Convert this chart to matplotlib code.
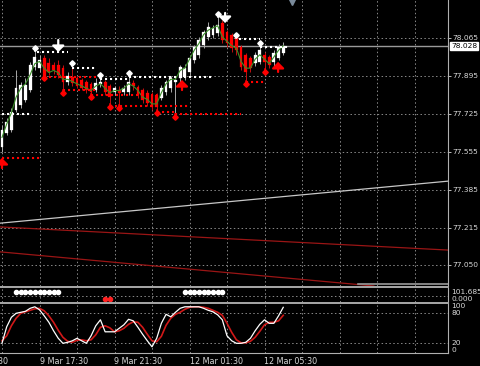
import numpy as np
import matplotlib
matplotlib.use('Agg')
import matplotlib.pyplot as plt

# ---------------- data ----------------
opens = [77.577, 77.640, 77.653, 77.743, 77.765, 77.788, 77.832, 77.935, 77.931, 77.976,
         77.953, 77.944, 77.944, 77.931, 77.868, 77.891, 77.886, 77.877, 77.868, 77.859,
         77.832, 77.859, 77.868, 77.850, 77.823, 77.832, 77.823, 77.823, 77.864, 77.846,
         77.832, 77.819, 77.810, 77.810, 77.797, 77.823, 77.841, 77.868, 77.886, 77.891,
         77.913, 77.967, 77.989, 78.034, 78.069, 78.078, 78.087, 78.132, 78.092, 78.078,
         78.069, 78.025, 77.989, 77.976, 77.953, 77.958, 77.989, 77.980, 77.958, 77.976,
         77.998]
closes = [77.653, 77.689, 77.734, 77.841, 77.855, 77.855, 77.944, 77.980, 77.967, 77.891,
          77.913, 77.922, 77.899, 77.868, 77.895, 77.864, 77.850, 77.841, 77.832, 77.823,
          77.864, 77.868, 77.823, 77.801, 77.841, 77.819, 77.841, 77.868, 77.850, 77.810,
          77.788, 77.774, 77.756, 77.756, 77.841, 77.868, 77.886, 77.877, 77.935, 77.931,
          77.976, 78.025, 78.056, 78.092, 78.114, 78.110, 78.123, 78.056, 78.043, 78.020,
          78.011, 77.935, 77.913, 77.931, 77.989, 78.011, 77.958, 77.944, 77.998, 78.025,
          78.028]
highs = [77.676, 77.707, 77.752, 77.922, 77.868, 77.886, 77.958, 78.011, 77.989, 77.989,
         77.976, 77.958, 77.967, 77.944, 77.913, 77.953, 77.895, 77.886, 77.877, 77.868,
         77.886, 77.899, 77.877, 77.859, 77.850, 77.850, 77.855, 77.895, 77.877, 77.855,
         77.841, 77.832, 77.823, 77.819, 77.855, 77.877, 77.895, 77.895, 77.944, 77.949,
         77.989, 78.034, 78.069, 78.101, 78.137, 78.123, 78.159, 78.146, 78.101, 78.087,
         78.074, 78.034, 77.998, 77.984, 78.002, 78.038, 78.002, 77.989, 78.011, 78.038,
         78.047]
lows = [77.555, 77.631, 77.644, 77.734, 77.752, 77.779, 77.823, 77.922, 77.913, 77.877,
        77.899, 77.904, 77.886, 77.823, 77.855, 77.850, 77.841, 77.832, 77.819, 77.801,
        77.823, 77.846, 77.810, 77.756, 77.810, 77.752, 77.810, 77.810, 77.832, 77.797,
        77.774, 77.761, 77.743, 77.729, 77.788, 77.810, 77.823, 77.707, 77.855, 77.877,
        77.899, 77.953, 77.976, 78.020, 78.056, 78.065, 78.074, 78.043, 78.025, 78.002,
        77.989, 77.922, 77.868, 77.913, 77.940, 77.949, 77.922, 77.931, 77.940, 77.967,
        77.989]
ma_line = [77.62, 77.68, 77.73, 77.80, 77.84, 77.86, 77.90, 77.95, 77.96, 77.93,
           77.91, 77.92, 77.91, 77.88, 77.88, 77.87, 77.86, 77.85, 77.84, 77.83,
           77.85, 77.86, 77.84, 77.82, 77.83, 77.83, 77.84, 77.86, 77.85, 77.83,
           77.80, 77.79, 77.77, 77.77, 77.82, 77.86, 77.88, 77.88, 77.92, 77.93,
           77.97, 78.01, 78.04, 78.08, 78.10, 78.11, 78.12, 78.07, 78.05, 78.03,
           78.02, 77.96, 77.93, 77.93, 77.97, 77.99, 77.97, 77.95, 77.98, 78.01,
           78.03]

stoch_main = [20, 53, 72, 80, 82, 84, 90, 93, 87, 75, 62, 45, 30, 20, 22, 25, 30, 25, 20, 35,
              55, 67, 43, 43, 43, 50, 57, 68, 65, 52, 38, 25, 13, 30, 60, 78, 73, 82, 90, 93,
              93, 93, 93, 90, 86, 83, 77, 67, 35, 25, 20, 20, 22, 30, 45, 58, 67, 60, 60, 75,
              92]
stoch_signal = [25, 35, 55, 70, 80, 83, 86, 89, 90, 85, 75, 62, 46, 32, 24, 22, 26, 27, 25, 27,
                37, 52, 55, 51, 43, 45, 50, 58, 63, 62, 52, 38, 25, 23, 34, 56, 70, 78, 82, 88,
                92, 93, 93, 92, 90, 86, 82, 76, 60, 42, 27, 21, 21, 24, 32, 44, 57, 62, 62, 65,
                76]

# fractal markers (bar, price)
up_fr_bars = [7, 15, 21, 27, 46, 50, 55]
up_fr_prices = [78.020, 77.953, 77.899, 77.908, 78.172, 78.078, 78.043]
dn_fr_bars = [9, 13, 19, 23, 25, 33, 37, 52, 56]
dn_fr_prices = [77.886, 77.819, 77.801, 77.756, 77.752, 77.729, 77.712, 77.859, 77.913]

# dotted level lines (start bar, end bar, price)
white_lv_start = [0, 7.5, 15, 21, 27, 50.5, 55]
white_lv_end = [6, 14, 20, 27, 45, 55, 61]
white_lv_price = [77.725, 78.002, 77.931, 77.882, 77.891, 78.060, 78.025]
red_lv_start = [0, 9, 13, 19, 23, 33, 37, 52]
red_lv_end = [8, 20, 20, 33, 40, 37, 51, 56]
red_lv_price = [77.528, 77.891, 77.832, 77.810, 77.761, 77.734, 77.725, 77.868]

# big signal arrows (bar, tail price, tip price)
sell_bars = [12, 47.6]
sell_tail = [78.056, 78.177]
sell_tip = [78.002, 78.132]
buy_bars = [0, 38.4, 58.9]
buy_tail = [77.483, 77.832, 77.913]
buy_tip = [77.528, 77.877, 77.958]

# trend lines: (bar a, price a, bar b, price b)
trend_white = (0, 77.237, 95, 77.424)
trend_red1 = (0, 77.219, 95, 77.116)
trend_red2 = (0, 77.107, 95, 76.925)

# small panel dots
white_dot_bars = [3, 4, 5, 6, 7, 8, 9, 10, 11, 12, 39, 40, 41, 42, 43, 44, 45, 46, 47]
red_dot_bars = [22, 23]

price_ticks = [78.065, 77.895, 77.725, 77.555, 77.385, 77.215, 77.050]
price_labels = ['78.065', '77.895', '77.725', '77.555', '77.385', '77.215', '77.050']
current_price = 78.028

time_label_bars = [8, 24, 40, 56]
time_labels = ['9 Mar 17:30', '9 Mar 21:30', '12 Mar 01:30', '12 Mar 05:30']
first_time_label = '9 Mar 13:30'

# ---------------- figure ----------------
W, H = 480, 366
fig = plt.figure(figsize=(W / 100, H / 100), dpi=100, facecolor='black')


def fax(x0, y0, x1, y1):
    a = fig.add_axes([x0 / W, 1 - y1 / H, (x1 - x0) / W, (y1 - y0) / H])
    a.set_facecolor('black')
    for s in a.spines.values():
        s.set_visible(False)
    return a


ppb = 4.6875
xlim = (-2 / ppb, (448 - 2) / ppb)
GRID = '#8a8a8a'
TXT = '#d8d8d8'
FS = 5.4

ax = fax(0, 0, 448, 286)
ax2 = fax(0, 288, 448, 302)
ax3 = fax(0, 303.3, 448, 353.3)
for a in (ax, ax2, ax3):
    a.set_xlim(*xlim)
    a.set_xticks([])
    for b in np.arange(0, 96, 8):
        a.axvline(b, color=GRID, lw=0.7, ls=(0, (1.5, 2.5)), zorder=0)

# main panel
ax.set_ylim(76.955, 78.235)
ax.yaxis.tick_right()
ax.set_yticks(price_ticks)
ax.set_yticklabels(price_labels)
ax.tick_params(axis='y', colors=TXT, labelsize=FS, length=2, pad=1.5, width=0.6)
for t in price_ticks:
    ax.axhline(t, color=GRID, lw=0.7, ls=(0, (1.5, 2.5)), zorder=0)
ax.spines['right'].set_visible(True)
ax.spines['right'].set_color('#b0b0b0')

# trend lines
for (b0, p0, b1, p1), col in ((trend_white, '#c8c8c8'), (trend_red1, '#9a1515'), (trend_red2, '#9a1515')):
    ax.axline((b0, p0), (b1, p1), color=col, lw=0.9, zorder=1)
ax.plot([76, 95.2], [76.962, 76.962], color='#9a9a9a', lw=1.2, zorder=1)

# current price line
ax.axhline(current_price, color='#9a9a9a', lw=1.0, zorder=1)

# candles
x = np.arange(len(closes))
o = np.array(opens); c = np.array(closes); h = np.array(highs); l = np.array(lows)
bull = c >= o
ax.vlines(x[bull], l[bull], h[bull], color='#a8a8a8', lw=0.7, zorder=3)
ax.vlines(x[~bull], l[~bull], h[~bull], color='#c01010', lw=0.7, zorder=3)
ax.bar(x[bull], (c - o)[bull], bottom=o[bull], width=0.6, color='white', edgecolor='white', lw=0.2, zorder=4)
ax.bar(x[~bull], (o - c)[~bull], bottom=c[~bull], width=0.6, color='#ff0000', edgecolor='#ff0000', lw=0.2, zorder=4)

# moving average
ax.plot(x, ma_line, color='#3a8f28', lw=0.8, zorder=5)

# dotted level lines
for s, e, p in zip(white_lv_start, white_lv_end, white_lv_price):
    ax.plot([s, e], [p, p], color='white', lw=1.5, ls=(0, (1, 1.4)), zorder=6)
for s, e, p in zip(red_lv_start, red_lv_end, red_lv_price):
    ax.plot([s, e], [p, p], color='#ff0000', lw=1.5, ls=(0, (1, 1.4)), zorder=6)

# fractal markers
stem = 0.014
for b, p in zip(up_fr_bars, up_fr_prices):
    ax.plot([b, b], [p, p - stem], color='white', lw=1.1, zorder=7)
    ax.plot(b, p, marker='D', ms=2.8, color='white', zorder=7)
for b, p in zip(dn_fr_bars, dn_fr_prices):
    ax.plot([b, b], [p, p + stem], color='#ff0000', lw=1.1, zorder=7)
    ax.plot(b, p, marker='D', ms=2.8, color='#ff0000', zorder=7)

# signal arrows
for b, t, tp in zip(sell_bars, sell_tail, sell_tip):
    ax.annotate('', xy=(b, tp), xytext=(b, t),
                arrowprops=dict(arrowstyle='-|>,head_width=0.45,head_length=0.45', color='white',
                                lw=1.6, shrinkA=0, shrinkB=0, mutation_scale=8), zorder=8)
for b, t, tp in zip(buy_bars, buy_tail, buy_tip):
    ax.annotate('', xy=(b, tp), xytext=(b, t),
                arrowprops=dict(arrowstyle='-|>,head_width=0.45,head_length=0.45', color='#ff0000',
                                lw=1.6, shrinkA=0, shrinkB=0, mutation_scale=8), zorder=8)

# chart shift marker
ax.plot(61.9, 78.226, marker='v', ms=4.5, color='#7a8a9a', zorder=9, clip_on=False)

# current price label
ax.annotate(f'{current_price:.3f}', xy=(1.0, current_price), xycoords=('axes fraction', 'data'),
            xytext=(2.2, 0), textcoords='offset points', va='center', ha='left', fontsize=FS,
            color='black', bbox=dict(boxstyle='square,pad=0.15', fc='white', ec='white'),
            annotation_clip=False)

# small panel
ax2.set_ylim(0, 1)
ax2.set_yticks([])
ax2.axhline(0.45, color=GRID, lw=0.7, ls=(0, (1.5, 2.5)), zorder=0)
ax2.plot(white_dot_bars, [0.72] * len(white_dot_bars), 'o', ms=3.0, color='white', zorder=3)
ax2.plot(red_dot_bars, [0.22] * len(red_dot_bars), 'o', ms=3.0, color='#ff2020', zorder=3)
ax2.spines['right'].set_visible(True)
ax2.spines['right'].set_color('#b0b0b0')
ax2.text(1.008, 0.95, '101.685', transform=ax2.transAxes, fontsize=FS, color=TXT, va='top', ha='left')
ax2.text(1.008, 0.0, '0.000', transform=ax2.transAxes, fontsize=FS, color=TXT, va='bottom', ha='left')

# stochastic panel
ax3.set_ylim(0, 100)
ax3.set_yticks([])
for lv in (80, 20):
    ax3.axhline(lv, color=GRID, lw=0.7, ls=(0, (1.5, 2.5)), zorder=0)
ax3.plot(x, stoch_signal, color='#d01818', lw=1.2, zorder=3)
ax3.plot(x, stoch_main, color='white', lw=0.9, zorder=4)
ax3.spines['right'].set_visible(True)
ax3.spines['bottom'].set_visible(True)
ax3.spines['right'].set_color('#b0b0b0')
ax3.spines['bottom'].set_color('#b0b0b0')
for val, lab, va in ((100, '100', 'top'), (80, '80', 'center'), (20, '20', 'center'), (0, '0', 'bottom')):
    ax3.text(1.008, val, lab, transform=ax3.get_yaxis_transform(), fontsize=FS, color=TXT, va=va, ha='left')

for b, lab in zip(time_label_bars, time_labels):
    ax3.text(b, -0.16, lab, transform=ax3.get_xaxis_transform(), fontsize=FS + 0.4, color=TXT,
             va='center', ha='left')
fig.text(8 / W, 1 - 361 / H, first_time_label, fontsize=FS + 0.4, color=TXT, va='center', ha='right')

# separators
for yy in (287, 302.6):
    fig.add_artist(plt.Line2D([0, 448 / W], [1 - yy / H, 1 - yy / H], color='#a8a8a8', lw=1.4))

fig.savefig('out.png', dpi=100, facecolor='black')
